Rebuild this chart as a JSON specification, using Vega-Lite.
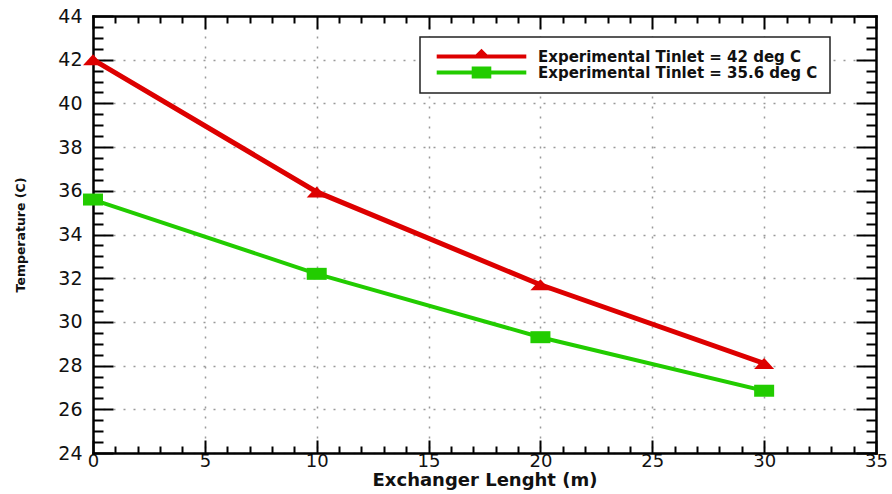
{
  "$schema": "https://vega.github.io/schema/vega-lite/v6.json",
  "width": 783,
  "height": 437,
  "autosize": {"type": "none"},
  "padding": {"left": 93, "top": 16, "right": 16, "bottom": 41},
  "background": "white",
  "config": {
    "view": {"stroke": null},
    "axis": {"tickColor": "#000", "tickWidth": 2, "domainColor": "#000", "domainWidth": 2.5, "domainCap": "square", "labelColor": "#111", "titleColor": "#111"}
  },
  "data": {
    "values": [
      {"series": "Experimental Tinlet = 42 deg C", "set": "42", "x": 0, "y": 42.0},
      {"series": "Experimental Tinlet = 42 deg C", "set": "42", "x": 10, "y": 35.95},
      {"series": "Experimental Tinlet = 42 deg C", "set": "42", "x": 20, "y": 31.7},
      {"series": "Experimental Tinlet = 42 deg C", "set": "42", "x": 30, "y": 28.1},
      {"series": "Experimental Tinlet = 35.6 deg C", "set": "35.6", "x": 0, "y": 35.6},
      {"series": "Experimental Tinlet = 35.6 deg C", "set": "35.6", "x": 10, "y": 32.2},
      {"series": "Experimental Tinlet = 35.6 deg C", "set": "35.6", "x": 20, "y": 29.3},
      {"series": "Experimental Tinlet = 35.6 deg C", "set": "35.6", "x": 30, "y": 26.85}
    ]
  },
  "layer": [
    {
      "mark": {"type": "line", "strokeCap": "round"},
      "encoding": {
        "x": {"field": "x", "type": "quantitative", "scale": {"domain": [0, 35], "nice": false, "zero": false},
          "axis": {"orient": "bottom", "values": [0, 5, 10, 15, 20, 25, 30, 35], "tickSize": -13, "labelPadding": 12, "labelFont": "DejaVu Sans", "labelFontSize": 18, "labelFlush": false,
            "grid": true, "gridDash": [2, 8], "gridColor": "#999", "gridWidth": 1.5,
            "title": "Exchanger Lenght (m)", "titleFont": "DejaVu Sans", "titleFontSize": 18, "titleFontWeight": "bold", "titlePadding": 1}},
        "y": {"field": "y", "type": "quantitative", "scale": {"domain": [24, 44], "nice": false, "zero": false},
          "axis": {"orient": "left", "values": [24, 26, 28, 30, 32, 34, 36, 38, 40, 42, 44], "tickSize": -20, "labelPadding": 31, "labelFont": "DejaVu Sans", "labelFontSize": 19, "labelFlush": false,
            "grid": true, "gridDash": [2, 8], "gridColor": "#999", "gridWidth": 1.5,
            "title": "Temperature (C)", "titleFont": "DejaVu Sans", "titleFontSize": 12.5, "titleFontWeight": "bold", "titlePadding": 30}},
        "color": {"field": "series", "type": "nominal",
          "scale": {"domain": ["Experimental Tinlet = 42 deg C", "Experimental Tinlet = 35.6 deg C"], "range": ["#dd0000", "#22cc00"]},
          "legend": {"orient": "none", "legendX": 327, "legendY": 21, "title": null, "symbolSize": 196, "labelOffset": 91, "labelLimit": 0,
            "labelFont": "DejaVu Sans", "labelFontSize": 15, "labelFontWeight": "bold", "labelColor": "#111", "padding": 12, "rowPadding": 0,
            "strokeColor": "#222", "fillColor": "white",
            "encode": {
              "symbols": {"update": {
                "shape": {"signal": "datum.value === 'Experimental Tinlet = 42 deg C' ? 'M-0.4,-0.3H12.4V0.3H-0.4Z M4.6,0.3L6,-1.1L7.4,0.3Z' : 'M-0.4,-0.3H12.4V0.3H-0.4Z M4.6,-0.85H7.4V0.85H4.6Z'"},
                "fill": {"signal": "datum.value === 'Experimental Tinlet = 42 deg C' ? '#dd0000' : '#22cc00'"},
                "stroke": {"value": "transparent"},
                "strokeWidth": {"value": 0},
                "size": {"value": 196},
                "opacity": {"value": 1}
              }},
              "legend": {"update": {"strokeWidth": {"value": 1.5}}}
            }}},
        "strokeWidth": {"field": "set", "type": "nominal", "scale": {"domain": ["42", "35.6"], "range": [5, 4]}, "legend": null}
      }
    },
    {
      "mark": {"type": "point", "filled": true, "opacity": 1, "size": 100, "strokeWidth": 0},
      "encoding": {
        "x": {"field": "x", "type": "quantitative", "axis": {"orient": "bottom", "values": [1,2,3,4,6,7,8,9,11,12,13,14,16,17,18,19,21,22,23,24,26,27,28,29,31,32,33,34], "tickSize": -7, "labels": false, "domain": false, "grid": false, "title": null}},
        "y": {"field": "y", "type": "quantitative", "axis": {"orient": "left", "values": [24.5,25,25.5,26.5,27,27.5,28.5,29,29.5,30.5,31,31.5,32.5,33,33.5,34.5,35,35.5,36.5,37,37.5,38.5,39,39.5,40.5,41,41.5,42.5,43,43.5], "tickSize": -10, "labels": false, "domain": false, "grid": false, "title": null}},
        "fill": {"field": "set", "type": "nominal", "scale": {"domain": ["42", "35.6"], "range": ["#dd0000", "#22cc00"]}, "legend": null},
        "shape": {"field": "set", "type": "nominal", "scale": {"domain": ["42", "35.6"], "range": ["M-2,1.1L0,-1.1L2,1.1Z", "M-2,-1.2H2V1.2H-2Z"]}, "legend": null}
      }
    },
    {
      "mark": {"type": "point", "opacity": 0},
      "encoding": {
        "x": {"field": "x", "type": "quantitative", "axis": {"orient": "top", "values": [0, 5, 10, 15, 20, 25, 30, 35], "tickSize": -13, "labels": false, "grid": false, "title": null}},
        "y": {"field": "y", "type": "quantitative", "axis": {"orient": "right", "values": [24, 26, 28, 30, 32, 34, 36, 38, 40, 42, 44], "tickSize": -20, "labels": false, "grid": false, "title": null}}
      }
    },
    {
      "mark": {"type": "point", "opacity": 0},
      "encoding": {
        "x": {"field": "x", "type": "quantitative", "axis": {"orient": "top", "values": [1,2,3,4,6,7,8,9,11,12,13,14,16,17,18,19,21,22,23,24,26,27,28,29,31,32,33,34], "tickSize": -7, "labels": false, "domain": false, "grid": false, "title": null}},
        "y": {"field": "y", "type": "quantitative", "axis": {"orient": "right", "values": [24.5,25,25.5,26.5,27,27.5,28.5,29,29.5,30.5,31,31.5,32.5,33,33.5,34.5,35,35.5,36.5,37,37.5,38.5,39,39.5,40.5,41,41.5,42.5,43,43.5], "tickSize": -10, "labels": false, "domain": false, "grid": false, "title": null}}
      }
    }
  ],
  "resolve": {"axis": {"x": "independent", "y": "independent"}}
}
